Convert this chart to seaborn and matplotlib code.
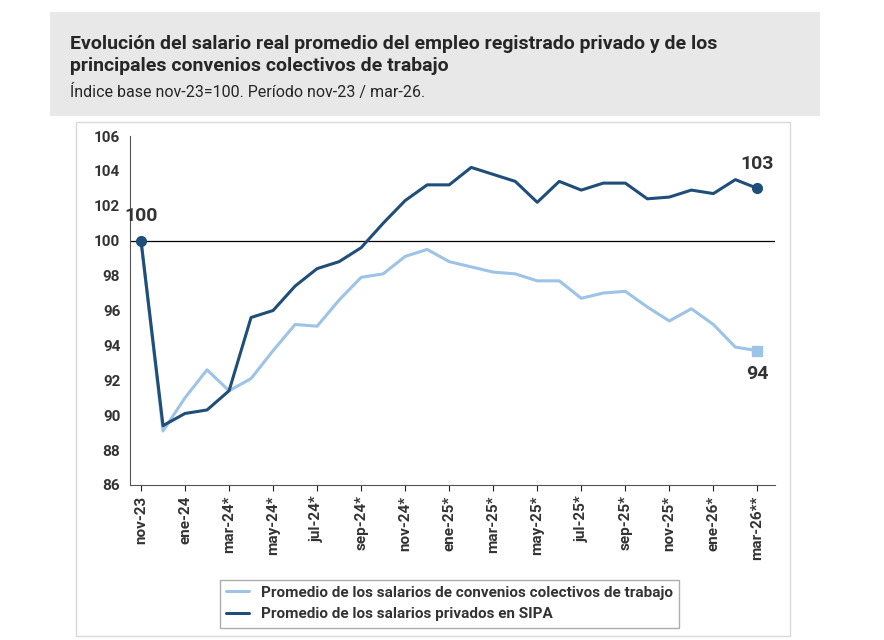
import matplotlib
matplotlib.use("Agg")
import matplotlib.pyplot as plt
import seaborn as sns
import pandas as pd
from matplotlib.patches import Rectangle

months = ["nov-23", "dic-23", "ene-24", "feb-24", "mar-24*", "abr-24*", "may-24*", "jun-24*",
          "jul-24*", "ago-24*", "sep-24*", "oct-24*", "nov-24*", "dic-24*", "ene-25*", "feb-25*",
          "mar-25*", "abr-25*", "may-25*", "jun-25*", "jul-25*", "ago-25*", "sep-25*", "oct-25*",
          "nov-25*", "dic-25*", "ene-26*", "feb-26*", "mar-26**"]
convenios = [100, 89.1, 91.0, 92.6, 91.4, 92.1, 93.7, 95.2, 95.1, 96.6, 97.9, 98.1, 99.1, 99.5,
             98.8, 98.5, 98.2, 98.1, 97.7, 97.7, 96.7, 97.0, 97.1, 96.2, 95.4, 96.1, 95.2, 93.9, 93.7]
sipa = [100, 89.4, 90.1, 90.3, 91.4, 95.6, 96.0, 97.4, 98.4, 98.8, 99.6, 101.0, 102.3, 103.2,
        103.2, 104.2, 103.8, 103.4, 102.2, 103.4, 102.9, 103.3, 103.3, 102.4, 102.5, 102.9, 102.7,
        103.5, 103.0]

light = "#9dc3e6"
dark = "#1f4e79"

sns.set_style("white")
plt.rcParams["font.family"] = ["Roboto", "DejaVu Sans"]

df = pd.DataFrame({"i": range(len(months)), "conv": convenios, "sipa": sipa})

fig = plt.figure(figsize=(8.84, 6.4), dpi=100)
# header box
fig.patches.append(Rectangle((50 / 884, 1 - 116 / 640), 770 / 884, 104 / 640,
                             transform=fig.transFigure, facecolor="#e8e8e8", edgecolor="none"))
fig.patches.append(Rectangle((76 / 884, 1 - 636 / 640), 714 / 884, 514 / 640,
                             transform=fig.transFigure, facecolor="none", edgecolor="#d9d9d9", lw=1))
fig.text(70 / 884, 1 - 55 / 640,
         "Evolución del salario real promedio del empleo registrado privado y de los\nprincipales convenios colectivos de trabajo",
         fontsize=14, fontweight="bold", va="center", linespacing=1.35)
fig.text(70 / 884, 1 - 92 / 640, "Índice base nov-23=100. Período nov-23 / mar-26.",
         fontsize=11.5, va="center")

ax = fig.add_axes([130 / 884, 1 - 485 / 640, 645 / 884, 349 / 640])
sns.lineplot(data=df, x="i", y="conv", color=light, lw=2.2, ax=ax,
             label="Promedio de los salarios de convenios colectivos de trabajo")
sns.lineplot(data=df, x="i", y="sipa", color=dark, lw=2.2, ax=ax,
             label="Promedio de los salarios privados en SIPA")
ax.axhline(100, color="black", lw=0.9, zorder=0)
ax.plot(0, sipa[0], "o", color=dark, ms=7)
ax.plot(len(months) - 1, sipa[-1], "o", color=dark, ms=7)
ax.plot(len(months) - 1, convenios[-1], "s", color=light, ms=7)
ax.text(0, 100.9, "100", ha="center", va="bottom", fontsize=14, fontweight="bold", color="#333333")
ax.text(len(months) - 1, 103.9, "103", ha="center", va="bottom", fontsize=14, fontweight="bold", color="#333333")
ax.text(len(months) - 1, 92.9, "94", ha="center", va="top", fontsize=14, fontweight="bold", color="#333333")

ax.set_xlim(-0.5, len(months) - 0.2)
ax.set_ylim(86, 106)
ax.set_yticks(range(86, 107, 2))
ax.set_xticks(range(0, len(months), 2))
ax.set_xticklabels(months[::2], rotation=90, fontsize=11, fontweight="bold", color="#333333")
ax.tick_params(axis="y", labelsize=11, labelcolor="#333333")
for lbl in ax.get_yticklabels():
    lbl.set_fontweight("bold")
ax.tick_params(axis="x", length=4, direction="out", bottom=True)
ax.set_xlabel("")
ax.set_ylabel("")
for s in ["top", "right"]:
    ax.spines[s].set_visible(False)
ax.spines["bottom"].set_color("#555555")
ax.spines["left"].set_color("#555555")

leg = ax.legend(loc="upper left", bbox_to_anchor=(212 / 884, 1 - 572 / 640),
                bbox_transform=fig.transFigure, frameon=True, fancybox=False,
                edgecolor="#999999", fontsize=11, handlelength=1.5)
for t in leg.get_texts():
    t.set_fontweight("bold")
    t.set_color("#333333")

fig.savefig("out.png", dpi=100)
